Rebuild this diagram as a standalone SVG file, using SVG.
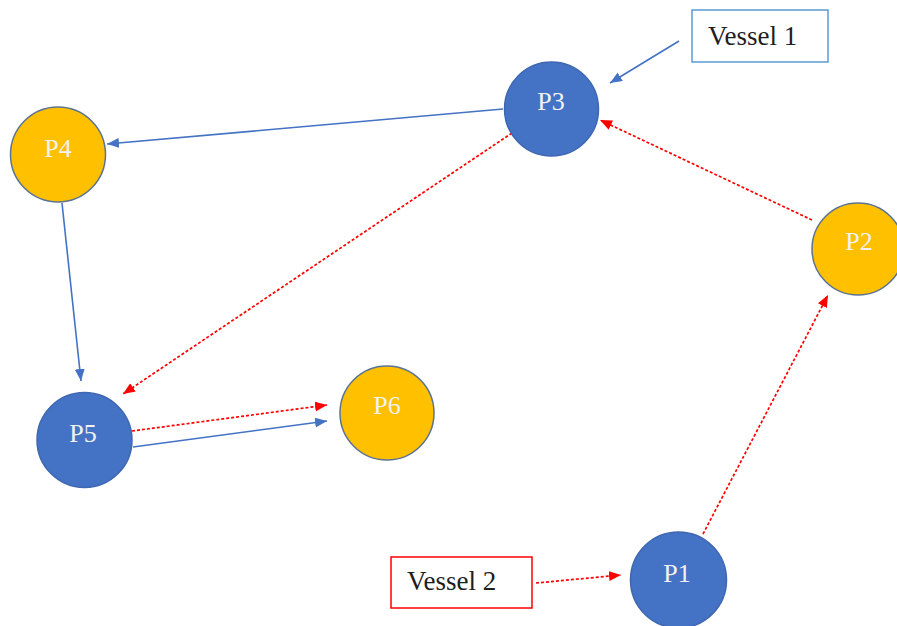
<svg xmlns="http://www.w3.org/2000/svg" width="897" height="626" viewBox="0 0 897 626">
<defs>
<style>
.blue{fill:#4472C4;stroke:#3F67B1;stroke-width:1.5}
.orange{fill:#FFC000;stroke:#5B7393;stroke-width:1.5}
.lbl{font-family:"Liberation Serif","Times New Roman",serif;font-size:26px;fill:#F2F2F2;text-anchor:middle}
.vtxt{font-family:"Liberation Serif","Times New Roman",serif;font-size:27px;fill:#1E1E1E}
.bl{stroke:#4472C4;stroke-width:1.6;fill:none;marker-end:url(#ab)}
.rd{stroke:#FF0000;stroke-width:1.7;fill:none;stroke-dasharray:3 2;marker-end:url(#ar)}
</style>
<marker id="ab" markerUnits="userSpaceOnUse" markerWidth="13" markerHeight="11" refX="12" refY="5" orient="auto"><path d="M0,0 L12,5 L0,10 z" fill="#4472C4"/></marker>
<marker id="ar" markerUnits="userSpaceOnUse" markerWidth="13" markerHeight="11" refX="12" refY="5" orient="auto"><path d="M0,0 L12,5 L0,10 z" fill="#FF0000"/></marker>
</defs>
<rect width="897" height="626" fill="#FFFFFF"/>
<g id="connectors">
<line class="bl" x1="679" y1="41" x2="610" y2="83"/>
<line class="bl" x1="503" y1="109" x2="107" y2="144"/>
<line class="bl" x1="62" y1="203" x2="81" y2="381"/>
<line class="rd" x1="512" y1="133" x2="123" y2="394"/>
<line class="rd" x1="132" y1="431" x2="327" y2="405"/>
<line class="bl" x1="133" y1="447" x2="327" y2="421"/>
<line class="rd" x1="812" y1="220" x2="600" y2="120"/>
<line class="rd" x1="703" y1="534" x2="828" y2="295"/>
<line class="rd" x1="536" y1="583" x2="621" y2="575"/>
</g>
<g id="vessel1"><rect x="692" y="10" width="136" height="52" fill="#FFFFFF" stroke="#5B9BD5" stroke-width="1.5"/><text class="vtxt" x="708" y="45">Vessel 1</text></g>
<g id="vessel2"><rect x="391" y="557" width="141" height="51" fill="#FFFFFF" stroke="#FF0000" stroke-width="1.5"/><text class="vtxt" x="407" y="590">Vessel 2</text></g>
<g id="P3"><circle class="blue" cx="551.5" cy="109" r="47"/><text class="lbl" x="551" y="110">P3</text></g>
<g id="P4"><circle class="orange" cx="58" cy="154.5" r="47.5"/><text class="lbl" x="58" y="157">P4</text></g>
<g id="P2"><circle class="orange" cx="858" cy="249" r="46"/><text class="lbl" x="859" y="250">P2</text></g>
<g id="P5"><circle class="blue" cx="84.5" cy="440" r="47.5"/><text class="lbl" x="83" y="442">P5</text></g>
<g id="P6"><circle class="orange" cx="387" cy="413" r="47"/><text class="lbl" x="387" y="414">P6</text></g>
<g id="P1"><circle class="blue" cx="678.5" cy="580" r="48"/><text class="lbl" x="677" y="582">P1</text></g>
</svg>
